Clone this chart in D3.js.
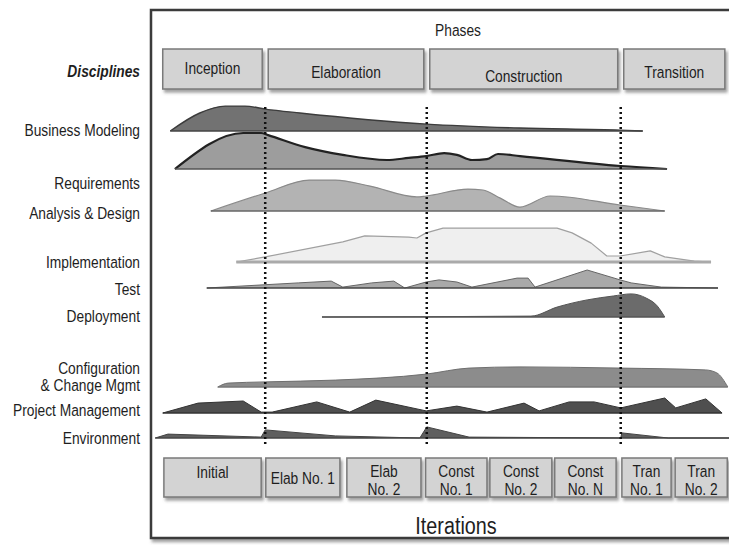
<!DOCTYPE html>
<html>
<head>
<meta charset="utf-8">
<script src="https://cdn.jsdelivr.net/npm/d3@7"></script>
<style>
  body { margin: 0; background: #fff; }
  text { font-family: "Liberation Sans", Arial, sans-serif; fill: #1e1e1e; }
</style>
</head>
<body>
<div id="chart"></div>
<script>
// ---- data (time 0..100 across the project, effort in relative units) ----
const disciplines = ["Business Modeling", "Requirements", "Analysis & Design", "Implementation",
  "Test", "Deployment", "Configuration\n& Change Mgmt", "Project Management", "Environment"];

const phases = ["Inception", "Elaboration", "Construction", "Transition"];
const phaseBounds = [2.2, 19.9, 47.8, 81.3, 99.8];

const iterations = ["Initial", "Elab No. 1", "Elab\nNo. 2", "Const\nNo. 1", "Const\nNo. 2", "Const\nNo. N", "Tran\nNo. 1", "Tran\nNo. 2"];
const iterStart = [2.4, 20.0, 34.0, 47.6, 58.7, 69.9, 81.5, 90.7];
const iterEnd   = [19.2, 32.8, 46.8, 58.2, 69.4, 80.5, 90.0, 99.7];

const businessModeling = [[3.5,0],[8.6,6],[13,8.3],[16.4,8.3],[19.9,7.3],[25.9,6],[47.8,2.3],[63.9,1],[81.2,0.3],[85.1,0]];
const requirements = [[4.3,0],[16.1,12],[19.2,12],[20.4,11.3],[26.8,7.3],[33.3,4.7],[40.9,3],[44.7,3.7],[47.7,4.3],
  [50.8,5.3],[53,4.7],[55.6,3],[58.2,3.3],[60.1,5],[63.9,4.3],[81.3,1],[89.3,0]];
const analysisDesign = [[10.5,0],[19.9,6],[27.5,10.3],[32,10.3],[38,8.3],[46.1,4.7],[47.7,5],[54.9,7.3],[57.5,7],
  [60.5,4.3],[63.9,1.3],[69.1,5],[81.2,2],[88.9,0]];
const implementation = [[14.9,0],[19.9,1.7],[33.3,6.7],[37.1,8.7],[44.7,8.3],[46.1,8],[47.7,9.7],[50.6,11.3],[70.3,11.3],
  [72.9,9.7],[76.2,6.3],[78.9,2],[81.2,2],[86.4,3.7],[88.9,1.7],[94,0.3],[96.9,0]];
const test = [[9.8,0],[25.6,1.7],[31.3,2.3],[33.3,0.3],[38.3,1.7],[42.1,2.3],[44,0],[47.7,2],[49.9,2.7],[53,2],[55.6,0.3],
  [63.4,3.3],[65.3,3.3],[66.5,0.3],[75.5,6],[81.2,2.7],[83.1,1.7],[88.3,0.3],[98.1,0]];
const deployment = [[29.7,0],[65.8,0.3],[70.3,3.3],[75.5,5.7],[80,7],[83.1,7.7],[85.7,6.3],[87.6,3.7],[88.9,0]];
const configChange = [[11.7,0],[13.5,1.3],[19.9,1.7],[32,2.3],[47.7,4.3],[55.1,6.3],[63.9,6.7],[81.3,6.3],[95.9,5.7],[97.9,4.7],[99.8,0]];
const projectMgmt = [[2.2,0],[8.3,3.3],[16.1,4],[19.2,0.3],[21.1,0.3],[28.8,3.7],[34.5,0.3],[39,4.3],[47.7,0.7],[53,2.3],
  [58.2,0.3],[64.6,3.3],[67.2,0.7],[72.4,3.7],[76.7,3.7],[81.3,1.7],[88.9,5],[90.8,1.7],[96,4.7],[98.8,0]];
const environment = [[0.9,0],[3.1,1.3],[19.2,0.3],[19.9,2.7],[32,0.7],[46.6,0],[47.8,3.7],[55.1,0.3],[81.3,0],[81.5,1.7],[89.5,0],[100,0]];

const series = [businessModeling, requirements, analysisDesign, implementation, test, deployment, configChange, projectMgmt, environment];

// ---- layout / styles ----
const rowBase = [131, 169, 211, 262, 288, 317, 387, 413, 438];
const labelY  = [130, 183, 213, 262, 289, 316, 368, 410, 438];
const rowStyle = [
  { fill: "#727272", stroke: "#3c3c3c", sw: 1.4, base: "#444", bw: 1.5, curve: d3.curveMonotoneX },
  { fill: "#9d9d9d", stroke: "#222",    sw: 2.2, base: "#555", bw: 1.5, curve: d3.curveMonotoneX },
  { fill: "#b3b3b3", stroke: "#8a8a8a", sw: 1.2, base: "#666", bw: 1.5, curve: d3.curveMonotoneX },
  { fill: "#efefef", stroke: "#a0a0a0", sw: 1.2, base: "#aaa", bw: 3,   curve: d3.curveLinear },
  { fill: "#a9a9a9", stroke: "#666",    sw: 1,   base: "#444", bw: 1.6, curve: d3.curveLinear },
  { fill: "#6b6b6b", stroke: "#555",    sw: 1,   base: "#555", bw: 1.4, curve: d3.curveMonotoneX },
  { fill: "#8c8c8c", stroke: "#6f6f6f", sw: 1,   base: "#777", bw: 1.4, curve: d3.curveMonotoneX },
  { fill: "#4f4f4f", stroke: "#333",    sw: 1,   base: "#333", bw: 1.5, curve: d3.curveLinear },
  { fill: "#5f5f5f", stroke: "#444",    sw: 1,   base: "#444", bw: 1.6, curve: d3.curveLinear }
];
const phaseTextY = [68, 72, 76, 72];

const W = 729, H = 545;
const svg = d3.select("#chart").append("svg").attr("width", W).attr("height", H);

const defs = svg.append("defs");
defs.append("filter").attr("id", "shadow").attr("x", "-10%").attr("y", "-10%").attr("width", "130%").attr("height", "140%")
  .append("feDropShadow").attr("dx", 2).attr("dy", 3).attr("stdDeviation", 1.8)
  .attr("flood-color", "#555").attr("flood-opacity", 0.55);

const x = d3.scaleLinear().domain([0, 100]).range([150, 729]);
const h = d3.scaleLinear().domain([0, 12]).range([0, 36]);

// narrow text: no condensed Arial here, so squeeze Liberation Sans horizontally
function label(px, py, str, size, anchor, sx) {
  return svg.append("text")
    .attr("transform", `translate(${px},${py}) scale(${sx || 0.81},1)`)
    .attr("dy", "0.35em").attr("text-anchor", anchor || "middle")
    .style("font-size", size + "px").text(str);
}

// frame
svg.append("rect").attr("x", 151).attr("y", 10).attr("width", 620).attr("height", 528)
  .attr("fill", "#fff").attr("stroke", "#3a3a3a").attr("stroke-width", 2.5).attr("filter", "url(#shadow)");

label(458, 30, "Phases", 17);
label(140, 71, "Disciplines", 17, "end").style("font-weight", "bold").style("font-style", "italic");

// phase boxes
const gap = 3;
phases.forEach((p, i) => {
  const x0 = x(phaseBounds[i]) + (i ? gap : 0), x1 = x(phaseBounds[i + 1]) - gap;
  svg.append("rect").attr("x", x0).attr("y", 49).attr("width", x1 - x0).attr("height", 40)
    .attr("fill", "#d3d3d3").attr("stroke", "#7a7a7a").attr("stroke-width", 1.5).attr("filter", "url(#shadow)");
  label((x0 + x1) / 2, phaseTextY[i], p, 17);
});

// discipline labels
disciplines.forEach((d, i) => {
  d.split("\n").forEach((ln, k) => label(140, labelY[i] + k * 17, ln, 17, "end"));
});

// humps
series.forEach((pts, i) => {
  const st = rowStyle[i], b = rowBase[i];
  const area = d3.area().x(d => x(d[0])).y0(b).y1(d => b - h(d[1])).curve(st.curve);
  const top = d3.line().x(d => x(d[0])).y(d => b - h(d[1])).curve(st.curve);
  svg.append("path").datum(pts).attr("d", area).attr("fill", st.fill);
  svg.append("path").datum(pts).attr("d", top).attr("fill", "none")
    .attr("stroke", st.stroke).attr("stroke-width", st.sw).attr("stroke-linejoin", "round");
  svg.append("line").attr("x1", x(pts[0][0])).attr("x2", x(pts[pts.length - 1][0]))
    .attr("y1", b).attr("y2", b).attr("stroke", st.base).attr("stroke-width", st.bw);
});

// phase milestones (dotted)
phaseBounds.slice(1, 4).forEach(t => {
  svg.append("line").attr("x1", x(t)).attr("x2", x(t)).attr("y1", 107).attr("y2", 447)
    .attr("stroke", "#111").attr("stroke-width", 2.5).attr("stroke-dasharray", "2,3");
});

// iteration boxes
iterations.forEach((it, i) => {
  const x0 = x(iterStart[i]), x1 = x(iterEnd[i]);
  svg.append("rect").attr("x", x0).attr("y", 458).attr("width", x1 - x0).attr("height", 39)
    .attr("fill", "#d3d3d3").attr("stroke", "#7a7a7a").attr("stroke-width", 1.5).attr("filter", "url(#shadow)");
  const lines = it.split("\n");
  const y0 = lines.length > 1 ? 471 : (i === 0 ? 472 : 478);
  lines.forEach((ln, k) => label((x0 + x1) / 2, y0 + k * 18, ln, 17));
});

label(456, 526, "Iterations", 23, "middle", 0.86);
</script>
</body>
</html>
